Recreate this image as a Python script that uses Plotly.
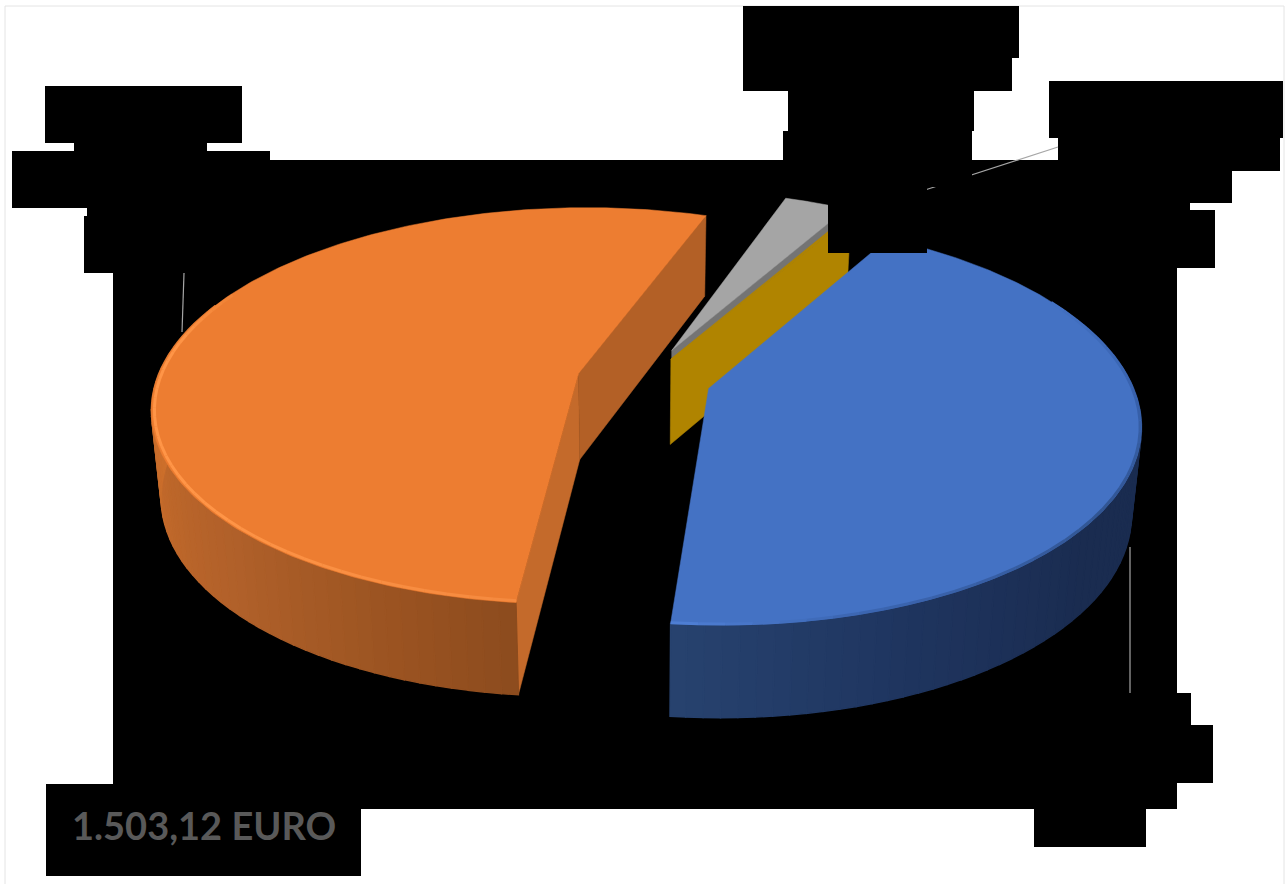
import numpy as np
import plotly.graph_objects as go

# Pie data: shares in percent, clockwise from the start angle
slice_names = ["Blu", "Arancione", "Grigio", "Oro"]
slice_values = [43.2, 53.7, 2.9, 0.2]
slice_explode = [0.17, 0.15, 0.165, 0.135]
top_colors = ["#4472C4", "#ED7D31", "#A5A5A5", "#B08400"]
total_label = "1.503,12 EURO"

START_ANGLE = 30.3

# Perspective camera of the tilted pie
X0, Y0 = 640.0, 380.0
R_X, R_Y = 422.0, 195.0
PERSPECTIVE = 0.163
DEPTH, DEPTH_PERSPECTIVE = 86.0, 0.07
BOTTOM_SHRINK = 0.02
WEDGE_NUDGE = {"Blu": (0.0, 0.01), "Grigio": (0.009, 0.005), "Oro": (0.007, -0.008)}


def project(u, v, drop=0.0):
    w = 1 + PERSPECTIVE * v
    x = X0 + R_X * u / w * (1 - BOTTOM_SHRINK * drop)
    y = Y0 - R_Y * v / w + drop * DEPTH / (1 + DEPTH_PERSPECTIVE * v)
    return x, y


def rim_point(angle, offset, radius=1.0):
    a = np.radians(angle)
    return offset[0] + radius * np.sin(a), offset[1] + radius * np.cos(a)


def polygon(fig, xs, ys, color, edge=0.5):
    fig.add_trace(go.Scatter(
        x=list(xs), y=list(ys), mode="lines", fill="toself",
        fillcolor=color, line=dict(color=color, width=edge),
        hoverinfo="skip", showlegend=False,
    ))


def mix(stops, t):
    positions = [s[0] for s in stops]
    channels = [[int(s[1][i:i + 2], 16) for s in stops] for i in (1, 3, 5)]
    rgb = [int(round(np.interp(t, positions, c))) for c in channels]
    return "#%02x%02x%02x" % tuple(rgb)


def edge_wall(fig, offset, angle, color):
    ua, va = offset
    ub, vb = rim_point(angle, offset)
    xa, ya = project(ua, va)
    xb, yb = project(ub, vb)
    xc, yc = project(ub, vb, 1)
    xd, yd = project(ua, va, 1)
    polygon(fig, [xa, xb, xc, xd, xa], [ya, yb, yc, yd, ya], color)


def outer_wall(fig, offset, a_from, a_to, stops):
    edges = np.arange(a_from, a_to, 2.0).tolist() + [a_to]
    for a, b in zip(edges[:-1], edges[1:]):
        arc = np.linspace(a, b, 4)
        u, v = rim_point(arc, offset)
        xt, yt = project(u, v)
        xb, yb = project(u, v, 1)
        polygon(fig,
                np.concatenate([xt, xb[::-1], xt[:1]]),
                np.concatenate([yt, yb[::-1], yt[:1]]),
                mix(stops, (a + b) / 2), edge=1.4)


def top_face(fig, offset, a_from, a_to, color):
    arc = np.linspace(a_from, a_to, 240)
    u, v = rim_point(arc, offset)
    xr, yr = project(u, v)
    xa, ya = project(*offset)
    polygon(fig,
            np.concatenate([[xa], xr, [xa]]),
            np.concatenate([[ya], yr, [ya]]), color)


def rim_line(fig, offset, a_from, a_to, radius, stops, width):
    edges = np.linspace(a_from, a_to, 41)
    for a, b in zip(edges[:-1], edges[1:]):
        arc = np.linspace(a, b, 6)
        u, v = rim_point(arc, offset, radius)
        x, y = project(u, v)
        fig.add_trace(go.Scatter(x=x, y=y, mode="lines",
                                 line=dict(color=mix(stops, (a + b) / 2), width=width),
                                 hoverinfo="skip", showlegend=False))


spans = np.array(slice_values) / sum(slice_values) * 360.0
ends = START_ANGLE + np.cumsum(spans)
starts = ends - spans
mids = (starts + ends) / 2
offsets = {
    name: (e * np.sin(np.radians(m)), e * np.cos(np.radians(m)))
    for name, e, m in zip(slice_names, slice_explode, mids)
}
for name, (du, dv) in WEDGE_NUDGE.items():
    offsets[name] = (offsets[name][0] + du, offsets[name][1] + dv)
angle = dict(zip(slice_names, zip(starts, ends)))
colors = dict(zip(slice_names, top_colors))

fig = go.Figure()

# Grey and gold wedges sit at the back, so they are painted first
edge_wall(fig, offsets["Grigio"], angle["Grigio"][1], "#747474")
top_face(fig, offsets["Grigio"], *angle["Grigio"], colors["Grigio"])
edge_wall(fig, offsets["Oro"], angle["Oro"][1], "#B08400")
top_face(fig, offsets["Oro"], *angle["Oro"], colors["Oro"])

# Orange wedge
o = offsets["Arancione"]
a0, a1 = angle["Arancione"]
edge_wall(fig, o, a0, "#C46A2B")
edge_wall(fig, o, a1, "#B36026")
outer_wall(fig, o, a0, 292, [(a0, "#8C4C1E"), (200, "#9A5321"), (225, "#B0602A"),
                             (265, "#CB6E2B"), (292, "#D8762F")])
top_face(fig, o, a0, a1, colors["Arancione"])
rim_line(fig, o, a0, 296, 0.993,
         [(a0, "#F58A3F"), (230, "#FF9547"), (280, "#FF9547"), (296, "#EF8236")], 3)

# Blue wedge
b = offsets["Blu"]
a0, a1 = angle["Blu"]
outer_wall(fig, b, 70, a1, [(70, "#1A2C50"), (130, "#1A2C50"),
                            (160, "#1F3560"), (a1, "#27426F")])
top_face(fig, b, a0, a1, colors["Blu"])
rim_line(fig, b, 62, a1, 0.997,
         [(62, "#4472C4"), (90, "#3862AE"), (125, "#315592"),
          (165, "#3C66B2"), (a1, "#4F80D6")], 3)

# Leader lines towards the labels
leaders = [([184, 182], [273, 332]), ([1130, 1130], [547, 693]), ([925, 1058], [190, 147])]
for lx, ly in leaders:
    fig.add_trace(go.Scatter(x=lx, y=ly, mode="lines",
                             line=dict(color="#A6A6A6", width=1.2),
                             hoverinfo="skip", showlegend=False))


def block(x0, y0, x1, y1, layer):
    return dict(type="rect", xref="x", yref="y", x0=x0, y0=y0, x1=x1, y1=y1,
                fillcolor="#000000", line=dict(width=0), layer=layer)


# Black backing of the plot area and of the label boxes
backing = [
    (113, 160, 1177, 809),
    (45, 86, 242, 143), (74, 143, 207, 151), (12, 151, 270, 208),
    (87, 208, 270, 216), (84, 216, 270, 273),
    (743, 6, 1019, 58), (743, 58, 1012, 91), (788, 91, 974, 131), (783, 131, 972, 160),
    (1049, 81, 1283, 138), (1058, 138, 1280, 171), (1058, 171, 1232, 203),
    (1058, 203, 1190, 210), (1058, 210, 1215, 268),
    (1000, 693, 1191, 725), (1000, 725, 1213, 783), (1034, 809, 1146, 847),
    (46, 784, 361, 876),
]
# Label boxes lying over the wedges
covers = [(783, 160, 972, 187), (828, 187, 927, 253)]

shapes = [dict(type="rect", xref="x", yref="y", x0=5, y0=6, x1=1284, y1=900,
               line=dict(color="#E4E4E4", width=1), fillcolor="#FFFFFF", layer="below")]
shapes += [block(*r, "below") for r in backing]
shapes += [block(*r, "above") for r in covers]

fig.update_layout(
    width=1285, height=884,
    margin=dict(l=0, r=0, t=0, b=0),
    paper_bgcolor="#FFFFFF", plot_bgcolor="#FFFFFF",
    xaxis=dict(range=[0, 1285], visible=False, fixedrange=True),
    yaxis=dict(range=[884, 0], visible=False, fixedrange=True),
    shapes=shapes,
    annotations=[dict(
        x=70, y=825, xref="x", yref="y", xanchor="left", yanchor="middle",
        text="<b>%s</b>" % total_label, showarrow=False,
        font=dict(family="Lato", size=38, color="#595959"),
    )],
)

fig.write_html("out.html")
